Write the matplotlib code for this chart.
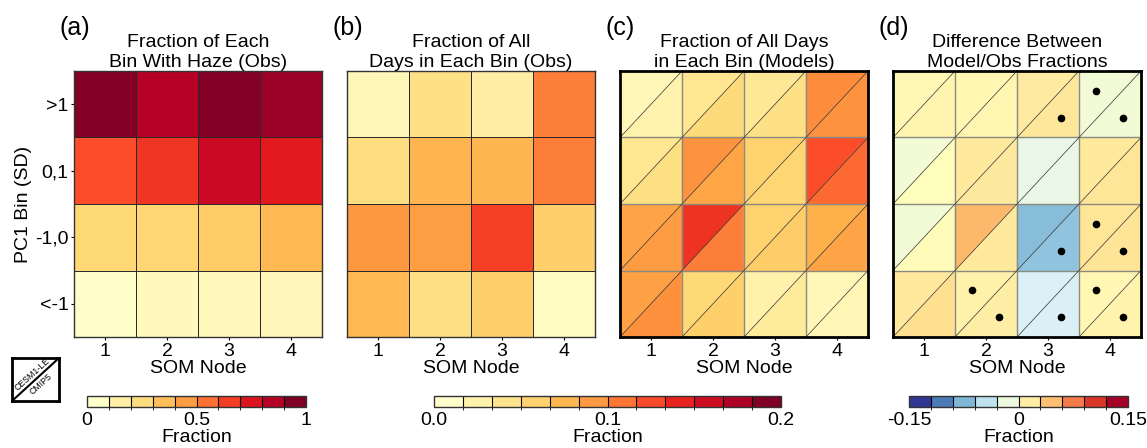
import matplotlib
matplotlib.use("Agg")
import matplotlib.pyplot as plt
import numpy as np
from matplotlib.colors import Normalize, BoundaryNorm
from matplotlib.collections import PolyCollection
from matplotlib.cm import ScalarMappable

plt.rcParams['font.family'] = ['Liberation Sans', 'DejaVu Sans']

# rows from top (>1) to bottom (<-1), columns are SOM nodes 1..4
som_nodes = ['1', '2', '3', '4']
pc1_bins = ['>1', '0,1', '-1,0', '<-1']

haze_frac_obs = [[0.99, 0.89, 0.99, 0.945],
                 [0.625, 0.685, 0.83, 0.75],
                 [0.25, 0.255, 0.295, 0.355],
                 [0.01, 0.045, 0.048, 0.057]]

days_frac_obs = [[0.012, 0.040, 0.024, 0.106],
                 [0.044, 0.073, 0.072, 0.106],
                 [0.093, 0.089, 0.132, 0.057],
                 [0.071, 0.042, 0.056, 0.006]]

# upper-left triangle = CESM1-LE, lower-right = CMIP5
days_frac_cesm = [[0.012, 0.034, 0.032, 0.100],
                  [0.034, 0.096, 0.054, 0.125],
                  [0.085, 0.138, 0.054, 0.076],
                  [0.086, 0.050, 0.020, 0.012]]
days_frac_cmip = [[0.018, 0.048, 0.040, 0.096],
                  [0.042, 0.084, 0.052, 0.114],
                  [0.090, 0.106, 0.058, 0.085],
                  [0.098, 0.056, 0.028, 0.014]]

diff_cesm = [[0.007, 0.009, 0.019, -0.012],
             [-0.012, 0.022, -0.021, 0.022],
             [-0.012, 0.053, -0.079, 0.025],
             [0.022, 0.0135, -0.032, 0.008]]
diff_cmip = [[0.010, 0.009, 0.023, -0.012],
             [0.002, 0.021, -0.021, 0.024],
             [0.003, 0.022, -0.074, 0.026],
             [0.030, 0.0165, -0.033, 0.011]]

# significance dots (1 = significant)
sig_cesm = [[0, 0, 0, 1],
            [0, 0, 0, 0],
            [0, 0, 0, 1],
            [0, 1, 0, 1]]
sig_cmip = [[0, 0, 1, 1],
            [0, 0, 0, 0],
            [0, 0, 1, 1],
            [0, 1, 1, 1]]

W, H = 1147, 448
fig = plt.figure(figsize=(W / 100, H / 100), dpi=100)


def px_axes(l, t, w, h):
    return fig.add_axes([l / W, (H - t - h) / H, w / W, h / H])


fs = 14
ax_left = [74, 347, 620, 893]
axes = [px_axes(l, 71, 248, 266) for l in ax_left]

cmap_seq = plt.get_cmap('YlOrRd')
cmap_div = plt.get_cmap('RdYlBu_r')
norm_a = Normalize(0, 1)
norm_b = Normalize(0, 0.2)
norm_d = Normalize(-0.15, 0.15)

edges = np.arange(0.5, 5.0, 1.0)


def setup(ax, title, label, ylabels=False):
    ax.set_xlim(0.5, 4.5)
    ax.set_ylim(0.5, 4.5)
    ax.set_xticks(range(1, 5))
    ax.set_xticklabels(som_nodes, fontsize=fs)
    ax.set_xlabel('SOM Node', fontsize=fs, labelpad=0)
    ax.tick_params(length=2.5, width=0.8, pad=1.5)
    if ylabels:
        ax.set_yticks(range(1, 5))
        ax.set_yticklabels(pc1_bins[::-1], fontsize=fs)
        ax.set_ylabel('PC1 Bin (SD)', fontsize=fs, labelpad=2)
    else:
        ax.set_yticks([])
    ax.set_title(title, fontsize=fs, pad=2, linespacing=1.25)
    ax.text(-0.057, 1.16, label, transform=ax.transAxes, fontsize=18,
            ha='left', va='center')


# (a), (b): plain heatmaps
for ax, data, norm in [(axes[0], haze_frac_obs, norm_a), (axes[1], days_frac_obs, norm_b)]:
    ax.pcolormesh(edges, edges, np.array(data)[::-1], cmap=cmap_seq, norm=norm,
                  edgecolors='#2a2a2a', linewidth=0.6)
    for s in ax.spines.values():
        s.set_linewidth(1.0)
        s.set_color('#333333')

setup(axes[0], 'Fraction of Each\nBin With Haze (Obs)', '(a)', ylabels=True)
setup(axes[1], 'Fraction of All\nDays in Each Bin (Obs)', '(b)')


# (c), (d): split cells
def split_cells(ax, ul, lr, cmap, norm, sig_ul=None, sig_lr=None):
    ul = np.array(ul)[::-1]
    lr = np.array(lr)[::-1]
    polys, vals = [], []
    for j in range(4):
        for i in range(4):
            x0, x1 = i + 0.5, i + 1.5
            y0, y1 = j + 0.5, j + 1.5
            polys.append([(x0, y0), (x0, y1), (x1, y1)])
            vals.append(ul[j, i])
            polys.append([(x0, y0), (x1, y0), (x1, y1)])
            vals.append(lr[j, i])
    pc = PolyCollection(polys, cmap=cmap, norm=norm, edgecolors='face', linewidths=0.3)
    pc.set_array(np.array(vals))
    ax.add_collection(pc)
    for e in edges[1:-1]:
        ax.axhline(e, color='#8a8a80', lw=1.0)
        ax.axvline(e, color='#8a8a80', lw=1.0)
    for k in range(-3, 4):
        ax.plot([0.5, 4.5], [0.5 + k, 4.5 + k], color='#333333', lw=0.5)
    if sig_ul is not None:
        su = np.array(sig_ul)[::-1]
        sl = np.array(sig_lr)[::-1]
        for j in range(4):
            for i in range(4):
                if su[j, i]:
                    ax.plot(i + 0.5 + 0.27, j + 1.5 - 0.3, 'o', color='k', ms=4.5)
                if sl[j, i]:
                    ax.plot(i + 0.5 + 0.71, j + 1.5 - 0.7, 'o', color='k', ms=4.5)
    for s in ax.spines.values():
        s.set_linewidth(2.0)
        s.set_color('black')


split_cells(axes[2], days_frac_cesm, days_frac_cmip, cmap_seq, norm_b)
split_cells(axes[3], diff_cesm, diff_cmip, cmap_div, norm_d, sig_cesm, sig_cmip)
setup(axes[2], 'Fraction of All Days\nin Each Bin (Models)', '(c)')
setup(axes[3], 'Difference Between\nModel/Obs Fractions', '(d)')


# colorbars
def add_cbar(l, w, cmap, bounds, ticks, ticklabels):
    cax = px_axes(l, 396, w, 11)
    n = len(bounds) - 1
    cm = plt.get_cmap(cmap, n)
    sm = ScalarMappable(norm=BoundaryNorm(bounds, n), cmap=cm)
    cb = fig.colorbar(sm, cax=cax, orientation='horizontal', drawedges=True)
    cb.dividers.set_color('black')
    cb.dividers.set_linewidth(0.8)
    cb.outline.set_linewidth(1.0)
    cb.outline.set_edgecolor('#333333')
    cb.set_ticks(ticks)
    cb.set_ticklabels(ticklabels)
    cax.tick_params(length=0, labelsize=fs, pad=3.5)
    cb.set_label('Fraction', fontsize=fs, labelpad=0)


add_cbar(87, 219, 'YlOrRd', np.linspace(0, 1, 11), [0, 0.5, 1], ['0', '0.5', '1'])
add_cbar(434, 347, 'YlOrRd', np.linspace(0, 0.2, 13), [0, 0.1, 0.2], ['0.0', '0.1', '0.2'])
add_cbar(909, 219, 'RdYlBu_r', np.linspace(-0.15, 0.15, 11), [-0.15, 0, 0.15],
         ['-0.15', '0', '0.15'])

# legend key for split cells
lax = px_axes(12, 358, 47, 43)
lax.set_xlim(0, 1)
lax.set_ylim(0, 1)
lax.set_xticks([])
lax.set_yticks([])
for s in lax.spines.values():
    s.set_linewidth(2.0)
lax.plot([0, 1], [0, 1], color='k', lw=1.5)
lax.text(0.43, 0.61, 'CESM1-LE', rotation=42, fontsize=6.3, ha='center', va='center')
lax.text(0.61, 0.4, 'CMIP5', rotation=42, fontsize=6.3, ha='center', va='center')

fig.savefig('out.png', dpi=100)
